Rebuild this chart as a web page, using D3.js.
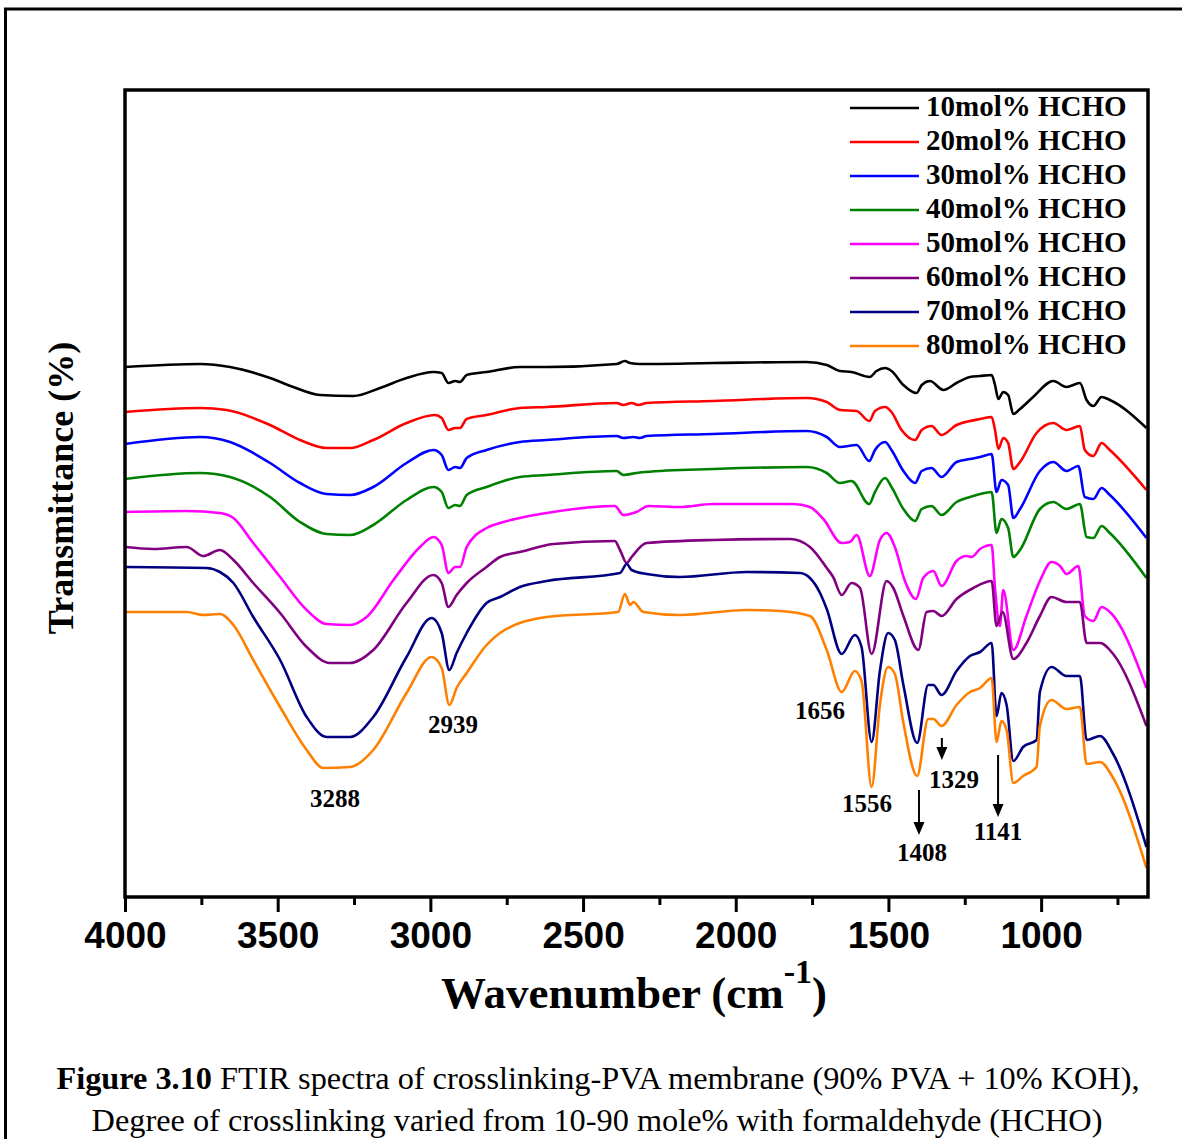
<!DOCTYPE html>
<html>
<head>
<meta charset="utf-8">
<script src="https://cdn.jsdelivr.net/npm/d3@7"></script>
<style>
  body { margin: 0; background: #fff; }
  svg { display: block; }
</style>
</head>
<body>
<svg id="chart" width="1182" height="1139"></svg>
<script>
// wavenumber (cm-1), transmittance (offset, a.u.)
const hcho10 = [[4000,53.0],[3754,53.3],[3656,53.0],[3525,51.9],[3449,51.0],[3362,50.2],[3252,50.1],[3165,50.9],[3078,51.9],[2990,52.5],[2963,52.4],[2941,51.4],[2919,51.6],[2903,51.5],[2881,52.2],[2816,52.5],[2707,53.0],[2619,53.0],[2390,53.3],[2363,53.6],[2346,53.4],[2314,53.3],[2074,53.4],[1768,53.5],[1702,53.2],[1659,52.6],[1621,52.5],[1561,52.0],[1539,52.6],[1511,52.9],[1490,52.6],[1451,51.2],[1408,50.4],[1391,51.2],[1364,51.6],[1320,50.7],[1277,51.4],[1233,52.0],[1200,52.1],[1162,52.2],[1151,51.2],[1140,49.8],[1124,50.5],[1108,50.2],[1091,48.3],[1069,48.8],[1026,50.0],[960,51.6],[917,51.0],[873,51.4],[851,49.7],[829,49.1],[802,50.0],[775,49.7],[655,46.9]];
const hcho20 = [[4000,48.5],[3754,48.9],[3667,48.7],[3525,47.2],[3427,45.7],[3340,44.9],[3263,44.9],[3187,45.7],[3078,47.4],[2985,48.2],[2963,47.9],[2941,46.7],[2919,46.9],[2903,46.9],[2881,47.8],[2816,48.2],[2707,48.9],[2619,49.0],[2390,49.4],[2368,49.2],[2341,49.4],[2319,49.2],[2292,49.4],[2074,49.6],[1768,49.9],[1702,49.5],[1659,48.7],[1604,48.6],[1563,47.6],[1544,48.6],[1511,49.0],[1490,48.5],[1457,46.7],[1413,45.7],[1391,46.7],[1359,47.1],[1326,46.2],[1277,47.2],[1233,47.6],[1200,47.8],[1162,48.0],[1151,46.7],[1140,44.8],[1124,45.9],[1108,45.4],[1091,42.8],[1069,43.5],[1015,46.4],[960,47.4],[917,46.7],[873,47.1],[857,44.7],[829,44.1],[802,45.4],[775,44.7],[655,40.7]];
const hcho30 = [[4000,45.3],[3754,46.0],[3656,45.5],[3525,43.4],[3427,41.4],[3340,40.3],[3263,40.2],[3187,41.0],[3078,43.4],[2990,44.7],[2963,44.2],[2941,42.7],[2919,43.0],[2903,42.9],[2881,43.9],[2816,44.7],[2707,45.5],[2619,45.7],[2390,46.1],[2368,45.9],[2335,46.0],[2314,45.9],[2292,46.1],[2074,46.3],[1768,46.6],[1702,46.0],[1659,45.0],[1604,45.2],[1563,43.6],[1544,44.7],[1511,45.5],[1490,44.7],[1451,42.6],[1413,41.4],[1391,42.6],[1359,42.9],[1326,42.0],[1277,43.5],[1233,43.8],[1200,44.0],[1162,44.3],[1146,40.5],[1130,41.7],[1108,41.2],[1091,37.9],[1069,38.8],[1004,42.6],[960,43.5],[917,42.6],[878,43.1],[857,40.0],[829,39.8],[802,40.9],[775,40.2],[655,35.9]];
const hcho40 = [[4000,41.8],[3754,42.4],[3656,42.0],[3525,40.0],[3427,37.5],[3340,36.3],[3263,36.2],[3187,37.2],[3078,39.7],[2990,41.0],[2963,40.5],[2941,38.9],[2919,39.2],[2903,39.1],[2881,40.2],[2816,41.0],[2707,42.0],[2619,42.2],[2390,42.6],[2368,42.2],[2325,42.4],[2297,42.5],[2074,42.8],[1768,43.0],[1702,42.4],[1659,41.4],[1621,41.6],[1563,39.3],[1544,40.5],[1511,41.9],[1490,41.0],[1451,38.8],[1413,37.6],[1391,38.8],[1359,39.1],[1326,38.2],[1277,39.5],[1233,40.0],[1200,40.3],[1162,40.5],[1146,36.4],[1130,37.8],[1108,36.9],[1091,34.0],[1069,34.7],[1004,38.8],[960,39.5],[917,38.8],[873,39.3],[851,36.0],[829,35.9],[802,37.1],[775,36.4],[655,31.9]];
const hcho50 = [[4000,38.5],[3798,38.6],[3689,38.4],[3645,37.9],[3580,35.4],[3492,32.0],[3405,28.7],[3340,27.3],[3263,27.2],[3209,28.0],[3121,31.7],[3034,35.0],[2990,36.0],[2963,35.2],[2941,32.4],[2919,33.0],[2903,33.0],[2881,35.0],[2816,36.9],[2772,37.4],[2707,37.9],[2619,38.4],[2396,39.1],[2368,38.2],[2325,38.5],[2286,39.1],[2183,39.0],[2074,39.3],[1812,39.3],[1757,39.0],[1713,37.8],[1653,35.4],[1626,35.5],[1604,36.2],[1561,32.1],[1528,35.7],[1506,36.4],[1479,35.0],[1446,31.6],[1410,29.8],[1386,31.9],[1353,32.6],[1326,31.1],[1277,33.6],[1244,34.1],[1228,34.0],[1200,34.8],[1162,35.2],[1151,30.9],[1135,27.1],[1124,30.7],[1091,24.7],[1048,28.1],[1004,31.6],[966,33.5],[938,33.1],[917,32.3],[878,33.1],[857,28.1],[829,27.6],[802,29.0],[775,28.5],[655,20.9]];
const hcho60 = [[4000,35.0],[3907,34.8],[3798,35.0],[3744,34.1],[3689,34.7],[3645,33.7],[3580,31.4],[3492,28.4],[3405,25.0],[3329,23.4],[3263,23.4],[3187,24.7],[3078,29.4],[2990,32.2],[2963,31.4],[2941,29.0],[2914,30.2],[2881,31.4],[2816,33.0],[2772,34.0],[2707,34.5],[2597,35.3],[2396,35.6],[2379,34.7],[2357,33.4],[2341,34.0],[2292,35.4],[2074,35.7],[1822,35.8],[1757,35.0],[1702,32.9],[1681,32.0],[1653,30.2],[1621,31.4],[1593,30.9],[1555,24.3],[1506,31.6],[1484,30.9],[1451,28.1],[1402,24.7],[1375,28.5],[1353,28.6],[1326,28.1],[1277,29.8],[1222,30.9],[1162,31.6],[1146,27.1],[1126,28.5],[1091,23.8],[1048,25.4],[1004,28.1],[966,30.0],[917,29.5],[873,29.5],[851,25.4],[807,25.4],[764,24.3],[655,17.1]];
const hcho70 = [[4000,33.0],[3733,32.9],[3689,32.5],[3645,31.4],[3580,28.0],[3492,23.7],[3405,18.0],[3340,16.0],[3263,16.0],[3187,18.0],[3078,24.0],[2996,27.9],[2963,26.4],[2938,22.7],[2914,24.4],[2881,26.4],[2816,29.4],[2772,30.0],[2707,31.0],[2619,31.6],[2379,32.4],[2357,33.3],[2341,32.7],[2292,32.3],[2183,32.0],[1964,32.5],[1790,32.4],[1757,31.9],[1724,30.4],[1702,28.8],[1653,24.3],[1610,26.2],[1588,25.0],[1555,15.5],[1528,22.6],[1501,26.4],[1479,25.7],[1451,21.2],[1406,15.4],[1370,21.2],[1353,21.2],[1326,20.2],[1277,22.6],[1233,24.1],[1200,24.5],[1162,25.4],[1146,18.1],[1130,20.4],[1113,19.2],[1091,13.6],[1059,15.0],[1015,15.7],[1004,20.5],[966,23.0],[917,22.1],[873,22.1],[851,15.7],[807,16.1],[764,14.3],[655,5.0]];
const hcho80 = [[4000,28.5],[3798,28.5],[3744,28.2],[3689,28.3],[3645,27.2],[3580,23.7],[3492,19.0],[3405,14.7],[3351,12.9],[3263,13.0],[3187,14.7],[3078,20.4],[2996,24.0],[2963,22.9],[2938,19.2],[2914,20.9],[2881,22.4],[2816,25.2],[2772,26.4],[2619,28.0],[2385,28.5],[2363,30.3],[2346,29.2],[2335,29.5],[2303,28.5],[2183,28.2],[1964,28.7],[1855,28.6],[1757,28.1],[1702,24.7],[1653,20.5],[1610,22.6],[1588,21.6],[1555,11.0],[1528,19.2],[1501,23.0],[1479,22.3],[1451,17.4],[1406,12.1],[1370,17.8],[1353,17.8],[1326,17.1],[1277,19.2],[1233,20.5],[1200,20.9],[1162,21.9],[1146,15.5],[1130,17.6],[1113,16.7],[1091,11.4],[1059,12.1],[1015,13.0],[1004,17.1],[966,19.7],[917,18.8],[873,19.0],[851,13.3],[807,13.5],[764,11.9],[655,2.9]];

const seriesNames = ['10mol% HCHO','20mol% HCHO','30mol% HCHO','40mol% HCHO','50mol% HCHO','60mol% HCHO','70mol% HCHO','80mol% HCHO'];
const seriesData = [hcho10, hcho20, hcho30, hcho40, hcho50, hcho60, hcho70, hcho80];
const seriesColors = ['#000000','#ff0000','#0000ff','#008000','#ff00ff','#800080','#000080','#ff8000'];

const xTicks = [4000, 3500, 3000, 2500, 2000, 1500, 1000];
const xMinorTicks = [3750, 3250, 2750, 2250, 1750, 1250, 750];

// peak labels: text, label position (wavenumber, transmittance)
const peakLabels = [
  {text: '3288', w: 3312, v: 9.0},
  {text: '2939', w: 2926, v: 16.4},
  {text: '1656', w: 1724, v: 17.8},
  {text: '1556', w: 1570, v: 8.5},
  {text: '1408', w: 1390, v: 3.6},
  {text: '1329', w: 1285, v: 10.9},
  {text: '1141', w: 1141, v: 5.7}
];
// arrows: wavenumber, from, to
const peakArrows = [
  {w: 1400, v0: 10.7, v1: 6.2},
  {w: 1325, v0: 15.9, v1: 13.7},
  {w: 1141, v0: 14.2, v1: 8.0}
];

const margin = {top: 90, right: 34, bottom: 242, left: 125};
const W = 1182, H = 1139;
const width = W - margin.left - margin.right;
const height = H - margin.top - margin.bottom;

const serif = '"Liberation Serif", "Times New Roman", serif';
const sans = '"Liberation Sans", Arial, sans-serif';

const svg = d3.select('#chart');

// page frame
svg.append('line').attr('x1', 4).attr('x2', W).attr('y1', 9).attr('y2', 9)
  .attr('stroke', '#000').attr('stroke-width', 3);
svg.append('line').attr('x1', 5.5).attr('x2', 5.5).attr('y1', 8).attr('y2', H)
  .attr('stroke', '#000').attr('stroke-width', 3);

const g = svg.append('g').attr('transform', `translate(${margin.left},${margin.top})`);

const x = d3.scaleLinear().domain([4000, 650]).range([0, width]);
const y = d3.scaleLinear().domain([0, 80.7]).range([height, 0]);

const line = d3.line()
  .x(d => x(d[0]))
  .y(d => y(d[1]))
  .curve(d3.curveMonotoneX);

g.append('defs').append('clipPath').attr('id', 'clip')
  .append('rect').attr('width', width).attr('height', height);

const plot = g.append('g').attr('clip-path', 'url(#clip)');
seriesData.forEach((s, i) => {
  plot.append('path')
    .datum(s)
    .attr('fill', 'none')
    .attr('stroke', seriesColors[i])
    .attr('stroke-width', 2.6)
    .attr('stroke-linejoin', 'round')
    .attr('d', line);
});

// bottom axis
const xAxis = d3.axisBottom(x).tickValues(xTicks).tickSize(15).tickPadding(10).tickFormat(d3.format('d'));
const ax = g.append('g').attr('transform', `translate(0,${height})`).call(xAxis);
ax.select('.domain').remove();
ax.selectAll('.tick line').attr('stroke-width', 3);
ax.selectAll('.tick text')
  .attr('font-family', sans).attr('font-weight', 'bold').attr('font-size', 37).attr('fill', '#000');

const minor = d3.axisBottom(x).tickValues(xMinorTicks).tickSize(8).tickFormat('');
const mx = g.append('g').attr('transform', `translate(0,${height})`).call(minor);
mx.select('.domain').remove();
mx.selectAll('.tick line').attr('stroke-width', 3);

// frame
g.append('rect').attr('width', width).attr('height', height)
  .attr('fill', 'none').attr('stroke', '#000').attr('stroke-width', 3.5);

// axis titles
const xt = svg.append('text')
  .attr('x', 634).attr('y', 1008)
  .attr('text-anchor', 'middle')
  .attr('font-family', serif).attr('font-weight', 'bold').attr('font-size', 45);
xt.append('tspan').text('Wavenumber (cm');
xt.append('tspan').attr('dy', -25).attr('font-size', 34).text('-1');
xt.append('tspan').attr('dy', 25).text(')');

svg.append('text')
  .attr('transform', 'translate(73,488) rotate(-90)')
  .attr('text-anchor', 'middle')
  .attr('font-family', serif).attr('font-weight', 'bold').attr('font-size', 36)
  .text('Transmittance (%)');

// legend
const legend = g.append('g').attr('transform', `translate(${850 - margin.left},${108 - margin.top})`);
seriesNames.forEach((name, i) => {
  const row = legend.append('g').attr('transform', `translate(0,${i * 34})`);
  row.append('line').attr('x1', 0).attr('x2', 69).attr('y1', 0).attr('y2', 0)
    .attr('stroke', seriesColors[i]).attr('stroke-width', 2.6);
  row.append('text').attr('x', 76).attr('y', 8)
    .attr('font-family', serif).attr('font-weight', 'bold').attr('font-size', 29)
    .text(name);
});

// peak labels
g.selectAll('.peak').data(peakLabels).join('text')
  .attr('class', 'peak')
  .attr('x', d => x(d.w)).attr('y', d => y(d.v))
  .attr('text-anchor', 'middle')
  .attr('font-family', serif).attr('font-weight', 'bold').attr('font-size', 25)
  .text(d => d.text);

peakArrows.forEach(a => {
  const ax0 = x(a.w), y0 = y(a.v0), y1 = y(a.v1);
  g.append('line').attr('x1', ax0).attr('x2', ax0).attr('y1', y0).attr('y2', y1 - 10)
    .attr('stroke', '#000').attr('stroke-width', 2);
  g.append('path')
    .attr('d', `M${ax0 - 5.5},${y1 - 13}L${ax0 + 5.5},${y1 - 13}L${ax0},${y1}Z`)
    .attr('fill', '#000');
});

// caption
const cap1 = svg.append('text').attr('x', 598).attr('y', 1089)
  .attr('text-anchor', 'middle')
  .attr('font-family', serif).attr('font-size', 32.3);
cap1.append('tspan').attr('font-weight', 'bold').text('Figure 3.10');
cap1.append('tspan').text(' FTIR spectra of crosslinking-PVA membrane (90% PVA + 10% KOH),');

svg.append('text').attr('x', 597).attr('y', 1131)
  .attr('text-anchor', 'middle')
  .attr('font-family', serif).attr('font-size', 32.3)
  .text('Degree of crosslinking varied from 10-90 mole% with formaldehyde (HCHO)');
</script>
</body>
</html>
